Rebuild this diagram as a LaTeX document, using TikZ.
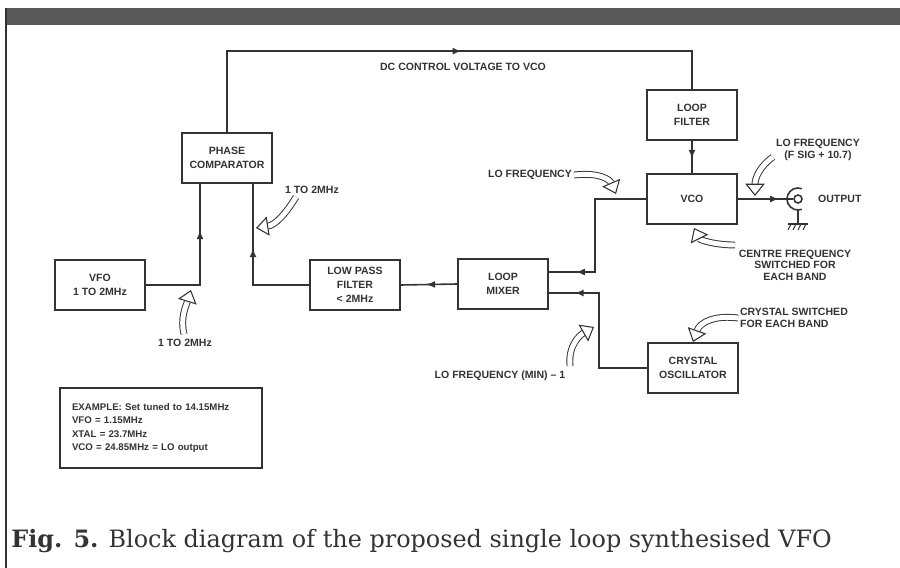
\documentclass[tikz,border=0pt]{standalone}
\usepackage{fontspec}
\setmainfont{Liberation Sans}
\newfontfamily\capfont{DejaVu Serif}
\usetikzlibrary{arrows.meta, calc, decorations.markings}

\begin{document}
\begin{tikzpicture}[x=0.02cm, y=-0.02cm, >=Stealth, color=black!80,
		block/.style={draw, line width=1pt, minimum width=1.8cm, minimum height=1cm,
				align=center, font=\bfseries\fontsize{6}{8}\selectfont},
		lbl/.style={font=\bfseries\fontsize{6}{6.5}\selectfont, align=center, inner sep=1pt},
		wire/.style={line width=0.9pt},
		arrowat/.style={postaction={decorate}, decoration={markings,
						mark=at position #1 with {\arrow{Latex[length=5pt, width=4pt]}}}},
		hollow/.style={double=white, double distance=2.8pt, line width=0.55pt,
				-{Triangle[open, fill=white, length=7pt, width=11pt, line width=0.6pt]}}]

		\useasboundingbox (0,0) rectangle (900,568);

		% Frame
		\fill[black!65] (5,8) rectangle (900,25);
		\draw[line width=1.2pt] (6,8) -- (6,568);

		% Blocks
		\node[block] (vfo) at (100,285) {VFO\\1 TO 2MHz};
		\node[block] (phase) at (227,158) {PHASE\\COMPARATOR};
		\node[block] (lpf) at (355,285) {LOW PASS\\FILTER\\< 2MHz};
		\node[block] (mixer) at (503,284) {LOOP\\MIXER};
		\node[block] (lfilter) at (692,115) {LOOP\\FILTER};
		\node[block] (vco) at (692,199) {VCO};
		\node[block] (xtal) at (693,368) {CRYSTAL\\OSCILLATOR};

		% Output socket
		\node[circle, draw, line width=0.9pt, minimum size=0.16cm, inner sep=0pt] (jack) at (798,199) {};
		\draw[line width=0.9pt] (jack) ++(-70:11) arc[start angle=-70, end angle=-290, radius=11];
		\draw[line width=0.9pt] ($(jack)+(0,11)$) coordinate (gnd) -- ++(0,14) coordinate (gndbar);
		\draw[line width=0.9pt] ($(gndbar)+(-10,0)$) -- ++(20,0);
		\foreach \i in {-7,-2,3,8} {
				\draw[line width=0.6pt] ($(gndbar)+(\i,0)$) -- ++(-3,6);
			}
		\node[lbl, anchor=west] (outlbl) at (816,199) {OUTPUT};

		% Connections
		\draw[wire, arrowat=0.7] (vfo.east) -| ($(phase.south)+(-27,0)$);
		\draw[wire, arrowat=0.59] (lpf.west) -| ($(phase.south)+(26,0)$);
		\draw[wire, arrowat=0.55] (mixer.west) -- (lpf.east);
		\draw[wire, arrowat=0.54] (phase.north) -- ++(0,-81) -| (lfilter.north);
		\draw[wire, arrowat=0.55] (lfilter.south) -- (vco.north);
		\draw[wire, arrowat=0.74] (vco.east) -- (jack.west);
		\draw[wire, arrowat=0.84] (vco.west) -- ++(-51,0) |- ($(mixer.east)+(0,-12)$);
		\draw[wire, arrowat=0.85] (xtal.west) -- ++(-48,0) |- ($(mixer.east)+(0,9)$);

		% Labels
		\node[lbl] (dclbl) at (463,67) {DC CONTROL VOLTAGE TO VCO};
		\node[lbl] (pclbl) at (312,190) {1 TO 2MHz};
		\node[lbl] (vfolbl) at (185,343) {1 TO 2MHz};
		\node[lbl, anchor=east] (lolbl) at (574,175) {LO FREQUENCY};
		\node[lbl] (siglbl) at (818,150) {LO FREQUENCY\\(F SIG + 10.7)};
		\node[lbl] (centrelbl) at (795,265) {CENTRE FREQUENCY\\SWITCHED FOR\\EACH BAND};
		\node[lbl, align=left, anchor=west] (xtallbl) at (738,318) {CRYSTAL SWITCHED\\FOR EACH BAND};
		\node[lbl] (minlbl) at (500,376) {LO FREQUENCY (MIN) -- 1};

		% Pointers
		\draw[hollow] (296,197) .. controls (285,215) and (275,225) .. (256,228);
		\draw[hollow] (184,334) .. controls (180,318) and (186,306) .. (191,290);
		\draw[hollow] (lolbl.east) .. controls (600,172) and (610,180) .. (616,194);
		\draw[hollow] (773,157) .. controls (760,166) and (755,178) .. (755,196);
		\draw[hollow] (735,245) .. controls (715,245) and (700,240) .. (694,228);
		\draw[hollow] (xtallbl.west) .. controls (715,315) and (700,322) .. (693,342);
		\draw[hollow] (570,366) .. controls (568,345) and (580,335) .. (594,327);

		% Example
		\node[draw, line width=1pt, minimum width=4.04cm, minimum height=1.6cm, text width=3.56cm,
			align=left, font=\bfseries\fontsize{5.5}{7.6}\selectfont] (example) at (161,428)
		{EXAMPLE: Set tuned to 14.15MHz\\VFO = 1.15MHz\\XTAL = 23.7MHz\\VCO = 24.85MHz = LO output};

		% Caption
		\node[anchor=base west, inner sep=0pt, font=\capfont\fontsize{13.6}{15}\selectfont] (caption) at (11,547)
		{\textbf{Fig. 5.} Block diagram of the proposed single loop synthesised VFO};

	\end{tikzpicture}
\end{document}
